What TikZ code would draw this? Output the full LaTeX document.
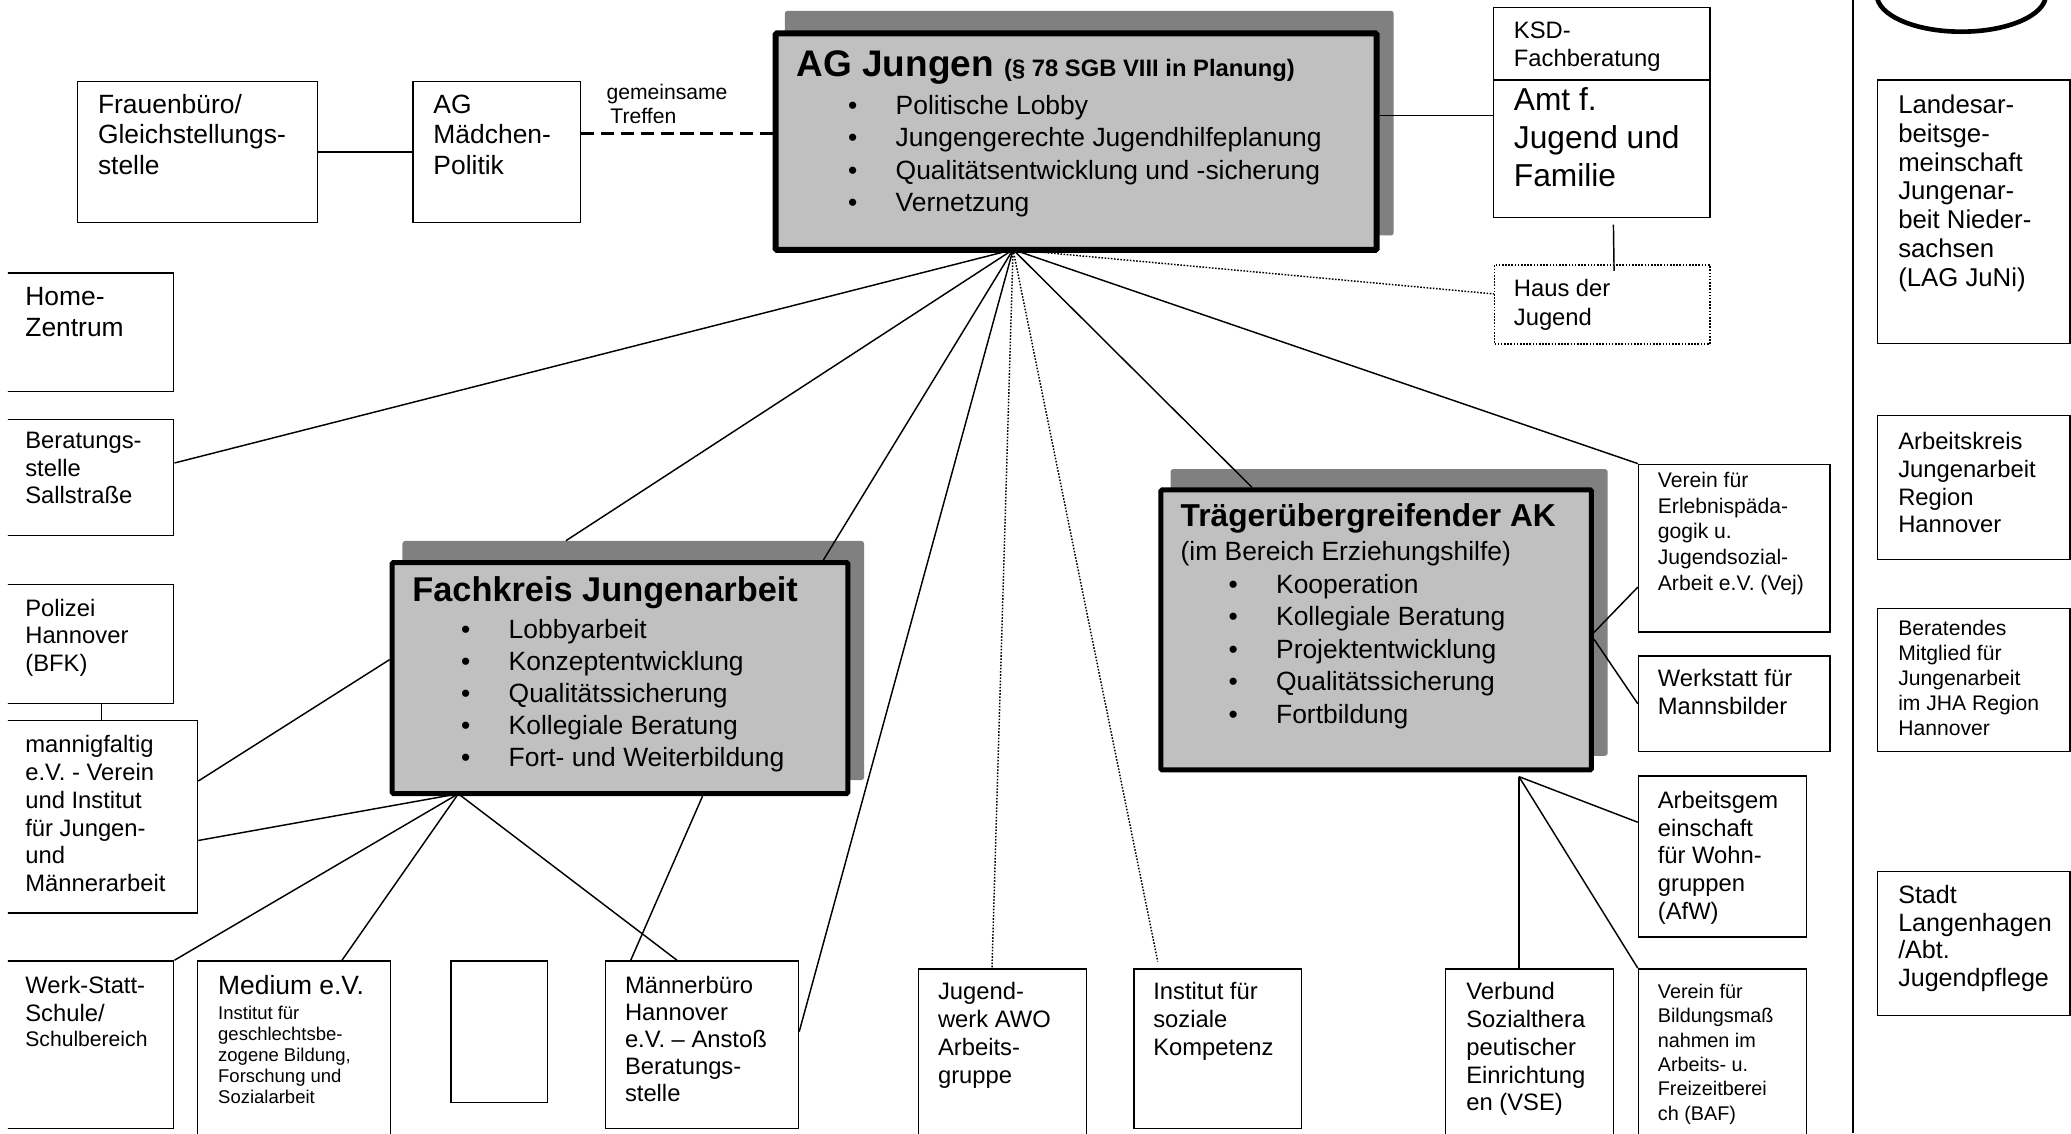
\documentclass[tikz,border=0pt]{standalone}
\usepackage{fontspec}
\setmainfont{Liberation Sans}

\definecolor{shadowgray}{HTML}{808080}
\definecolor{boxgray}{HTML}{C0C0C0}
\newcommand{\blt}{\makebox[36pt][l]{•}}
\newcommand{\txtlines}[1]{\begin{tabular}[t]{@{}l@{}}#1\end{tabular}}

\tikzset{
	box/.style={draw, line width=1.1pt, anchor=north west, inner sep=0pt},
	dotbox/.style={draw, line width=1.1pt, dash pattern=on 1.2pt off 1.2pt, anchor=north west, inner sep=0pt},
	shadowbox/.style={fill=shadowgray, rounded corners=2pt, anchor=north west, inner sep=0pt},
	bigbox/.style={draw, fill=boxgray, rounded corners=1pt, anchor=north west, inner sep=0pt},
	txt/.style={anchor=base west, inner sep=0pt},
	t20/.style={txt, font=\fontsize{20}{23}\selectfont},
	t18/.style={txt, font=\fontsize{18}{21}\selectfont},
	t16/.style={txt, font=\fontsize{16}{19}\selectfont},
	link/.style={line width=1.1pt},
	dotlink/.style={line width=1.1pt, dash pattern=on 1.2pt off 1.2pt},
	meetline/.style={line width=1.7pt, dash pattern=on 10pt off 5pt}
}

\begin{document}
\begin{tikzpicture}[x=1pt, y=-1pt]
	\useasboundingbox (0,0) rectangle (1568,858);

	% shadows of the three main groups
	\node[shadowbox, minimum width=461pt, minimum height=170pt] (agshadow) at (594,8) {};
	\node[shadowbox, minimum width=349.5pt, minimum height=181pt] (fachshadow) at (304.5,409.4) {};
	\node[shadowbox, minimum width=331pt, minimum height=217pt] (trshadow) at (886,355) {};

	% main groups
	\node[bigbox, line width=4.5pt, minimum width=455pt, minimum height=164pt] (ag) at (585,23) {};
	\node[txt] (agtitle) at (603,58) {\fontsize{28}{32}\selectfont\bfseries AG Jungen \fontsize{18}{20}\selectfont(§ 78 SGB VIII in Planung)};
	\node[txt, font=\fontsize{20}{24.6}\selectfont] (aglist) at (642,86.5) {\txtlines{\blt Politische Lobby\\\blt Jungengerechte Jugendhilfeplanung\\\blt Qualitätsentwicklung und -sicherung\\\blt Vernetzung}};

	\node[bigbox, line width=3.8pt, minimum width=345pt, minimum height=175pt] (fach) at (295,424) {};
	\node[txt, font=\fontsize{26}{30}\selectfont\bfseries] (fachtitle) at (312,455.5) {Fachkreis Jungenarbeit};
	\node[txt, font=\fontsize{20}{24.3}\selectfont] (fachlist) at (349,483.5) {\txtlines{\blt Lobbyarbeit\\\blt Konzeptentwicklung\\\blt Qualitätssicherung\\\blt Kollegiale Beratung\\\blt Fort- und Weiterbildung}};

	\node[bigbox, line width=3.8pt, minimum width=326pt, minimum height=212pt] (traeger) at (877,369) {};
	\node[txt, font=\fontsize{24}{28}\selectfont\bfseries] (trtitle) at (893.7,398.7) {Trägerübergreifender AK};
	\node[t20] (trsub) at (893.7,424) {(im Bereich Erziehungshilfe)};
	\node[txt, font=\fontsize{20}{24.7}\selectfont] (trlist) at (930,449) {\txtlines{\blt Kooperation\\\blt Kollegiale Beratung\\\blt Projektentwicklung\\\blt Qualitätssicherung\\\blt Fortbildung}};

	% top row
	\node[box, minimum width=182pt, minimum height=107pt] (frau) at (58,61) {};
	\node[t20] (frautext) at (74,86) {\txtlines{Frauenbüro/\\Gleichstellungs-\\stelle}};
	\node[box, minimum width=127pt, minimum height=107pt] (maed) at (312,61) {};
	\node[t20] (maedtext) at (328,86) {\txtlines{AG\\Mädchen-\\Politik}};
	\node[txt, font=\fontsize{16}{17.5}\selectfont] (treffen) at (459,75.7) {\txtlines{gemeinsame\\\hspace*{3pt}Treffen}};

	\node[box, minimum width=164pt, minimum height=55pt] (ksd) at (1130,5) {};
	\node[txt, font=\fontsize{18}{21.5}\selectfont] (ksdtext) at (1146,29) {\txtlines{KSD-\\Fachberatung}};
	\node[box, minimum width=164pt, minimum height=104pt] (amt) at (1130,60) {};
	\node[txt, font=\fontsize{24}{28.5}\selectfont] (amttext) at (1146,84) {\txtlines{Amt f.\\Jugend und\\Familie}};
	\node[dotbox, minimum width=163pt, minimum height=60pt] (haus) at (1131,200) {};
	\node[txt, font=\fontsize{18}{22}\selectfont] (haustext) at (1146,224.6) {\txtlines{Haus der\\Jugend}};

	% left column, cut at the left edge
	\begin{scope}
		\clip (6,0) rectangle (1568,858);
		\node[box, minimum width=136pt, minimum height=90pt] (home) at (-5,206) {};
		\node[txt, font=\fontsize{20}{24}\selectfont] (hometext) at (19,231) {\txtlines{Home-\\Zentrum}};
		\node[box, minimum width=136pt, minimum height=88pt] (berat) at (-5,317) {};
		\node[t18] (berattext) at (19,339.4) {\txtlines{Beratungs-\\stelle\\Sallstraße}};
		\node[box, minimum width=136pt, minimum height=90pt] (poliz) at (-5,442) {};
		\node[t18] (poliztext) at (19,466.4) {\txtlines{Polizei\\Hannover\\(BFK)}};
		\node[box, minimum width=154pt, minimum height=145.6pt] (mann) at (-5,545) {};
		\node[t18] (manntext) at (19,570) {\txtlines{mannigfaltig\\e.V. - Verein\\und Institut\\für Jungen-\\und\\Männerarbeit}};
		\node[box, minimum width=136pt, minimum height=127pt] (werk) at (-5,727) {};
		\node[txt, font=\fontsize{18}{21.5}\selectfont] (werktext) at (19,752) {\txtlines{Werk-Statt-\\Schule/\\[-3pt]\fontsize{16}{18}\selectfont Schulbereich}};
	\end{scope}

	% bottom row
	\node[box, minimum width=146pt, minimum height=140pt] (med) at (149,727) {};
	\node[t20] (medtitle) at (165,753.3) {Medium e.V.};
	\node[txt, font=\fontsize{14}{16}\selectfont] (medtext) at (165,771.8) {\txtlines{Institut für\\geschlechtsbe-\\zogene Bildung,\\Forschung und\\Sozialarbeit}};
	\node[box, minimum width=73pt, minimum height=107pt] (leer) at (341,727) {};
	\node[box, minimum width=146pt, minimum height=127pt] (maenner) at (458,727) {};
	\node[txt, font=\fontsize{18}{20.5}\selectfont] (maennertext) at (473,752) {\txtlines{Männerbüro\\Hannover\\e.V. – Anstoß\\Beratungs-\\stelle}};
	\node[box, minimum width=127pt, minimum height=140pt] (awo) at (695,733) {};
	\node[t18] (awotext) at (710,757) {\txtlines{Jugend-\\werk AWO\\Arbeits-\\gruppe}};
	\node[box, minimum width=127pt, minimum height=121pt] (ikomp) at (858,733) {};
	\node[t18] (ikomptext) at (873,757) {\txtlines{Institut für\\soziale\\Kompetenz}};
	\node[box, minimum width=127pt, minimum height=140pt] (vse) at (1094,733) {};
	\node[t18] (vsetext) at (1110,757) {\txtlines{Verbund\\Sozialthera\\peutischer\\Einrichtung\\en (VSE)}};
	\node[box, minimum width=127pt, minimum height=140pt] (baf) at (1240,733) {};
	\node[txt, font=\fontsize{15}{18.4}\selectfont] (baftext) at (1255,756) {\txtlines{Verein für\\Bildungsmaß\\nahmen im\\Arbeits- u.\\Freizeitberei\\ch (BAF)}};

	% members of the Traeger AK
	\node[box, minimum width=145pt, minimum height=127pt] (vej) at (1240,351) {};
	\node[txt, font=\fontsize{16}{19.5}\selectfont] (vejtext) at (1255,369) {\txtlines{Verein für\\Erlebnispäda-\\gogik u.\\Jugendsozial-\\Arbeit e.V. (Vej)}};
	\node[box, minimum width=145pt, minimum height=72.6pt] (werkst) at (1240,496) {};
	\node[t18] (werksttext) at (1255,520) {\txtlines{Werkstatt für\\Mannsbilder}};
	\node[box, minimum width=127pt, minimum height=122pt] (afw) at (1240,587) {};
	\node[t18] (afwtext) at (1255,612) {\txtlines{Arbeitsgem\\einschaft\\für Wohn-\\gruppen\\(AfW)}};

	% right column
	\draw[line width=3.5pt] (1485,-4) ellipse [x radius=64pt, y radius=28pt];
	\draw[link] (1403,0) -- (1403,858);
	\node[box, minimum width=145.5pt, minimum height=199.5pt] (lag) at (1421,60) {};
	\node[txt, font=\fontsize{19.5}{21.8}\selectfont] (lagtext) at (1437,86) {\txtlines{Landesar-\\beitsge-\\meinschaft\\Jungenar-\\beit Nieder-\\sachsen\\(LAG JuNi)}};
	\node[box, minimum width=145.5pt, minimum height=109pt] (akr) at (1421,314) {};
	\node[t18] (akrtext) at (1437,340.4) {\txtlines{Arbeitskreis\\Jungenarbeit\\Region\\Hannover}};
	\node[box, minimum width=145.5pt, minimum height=108.5pt] (bjha) at (1421,460) {};
	\node[txt, font=\fontsize{16}{18.8}\selectfont] (bjhatext) at (1437,481.5) {\txtlines{Beratendes\\Mitglied für\\Jungenarbeit\\im JHA Region\\Hannover}};
	\node[box, minimum width=145.5pt, minimum height=109pt] (stadt) at (1421,659.4) {};
	\node[txt, font=\fontsize{19}{21}\selectfont] (stadttext) at (1437,684) {\txtlines{Stadt\\Langenhagen\\/Abt.\\Jugendpflege}};

	% connectors
	\coordinate (aghub) at (767,189);
	\coordinate (fachhub) at (347,601);
	\coordinate (trhub) at (1150,588);
	\coordinate (meet) at ([yshift=14pt]maed.east);
	\coordinate (amtin) at ([yshift=25pt]amt.west);
	\coordinate (pz) at ([xshift=13.5pt]poliz.south);

	\draw[link] (frau) -- (maed);
	\draw[meetline] (meet) -- (meet -| ag.west);
	\draw[link] (amtin) -- (amtin -| ag.east);
	\draw[link] ([xshift=9pt,yshift=-5pt]amt.south) -- ([xshift=9pt,yshift=-5pt]haus.north);
	\draw[link] (pz) -- (pz |- mann.north);

	\draw[link] (aghub) -- ([yshift=11pt]berat.east);
	\draw[link] (aghub) -- ([xshift=-51pt]fachshadow.north);
	\draw[link] (aghub) -- ([xshift=154pt]fach.north);
	\draw[link] (aghub) -- ([yshift=10pt]maenner.east);
	\draw[dotlink] (aghub) -- ([xshift=-8pt]awo.north);
	\draw[dotlink] (aghub) -- ([xshift=-45.5pt,yshift=5pt]ikomp.north);
	\draw[link] (aghub) -- ([xshift=-94pt]traeger.north);
	\draw[link] (aghub) -- (vej.north west);
	\draw[dotlink] (aghub) -- ([yshift=8pt]haus.west);

	\draw[link] ([yshift=27pt]mann.east) -- ([yshift=14pt]fach.west);
	\draw[link] (fachhub) -- ([yshift=-18pt]mann.east);
	\draw[link] (fachhub) -- (werk.north east);
	\draw[link] (fachhub) -- ([xshift=36.4pt]med.north);
	\draw[link] (fachhub) -- ([xshift=-19pt]maenner.north);
	\draw[link] ([xshift=62.5pt]fach.south) -- ([xshift=-54pt]maenner.north);

	\draw[link] ([yshift=-2pt]traeger.east) -- ([yshift=-29.5pt]vej.west);
	\draw[link] ([yshift=-7pt]traeger.east) -- (werkst.west);
	\draw[link] (trhub) -- ([yshift=26pt]afw.west);
	\draw[link] (trhub) -- (trhub |- vse.north);
	\draw[link] (trhub) -- (baf.north west);
\end{tikzpicture}
\end{document}
